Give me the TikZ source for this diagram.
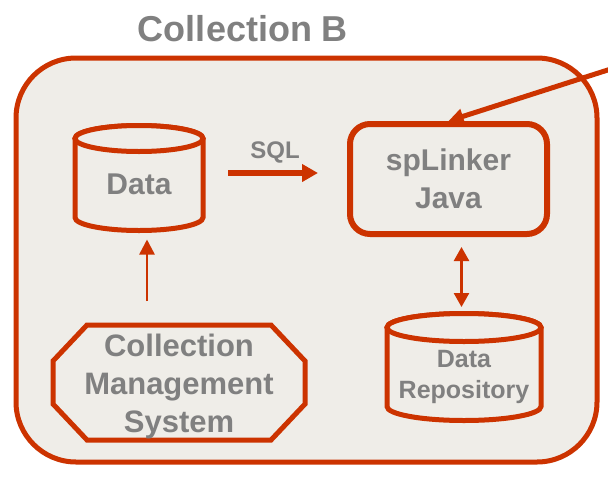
\documentclass[tikz,border=0pt]{standalone}
\usepackage{fontspec}
\setmainfont{Liberation Sans}
\usetikzlibrary{arrows.meta,positioning}

\definecolor{rust}{RGB}{204,51,0}
\definecolor{paper}{RGB}{239,237,232}
\definecolor{ink}{RGB}{128,128,128}

\tikzset{
	txt/.style={text=ink, align=center, inner sep=0pt},
	frame/.style={inner sep=0pt, outer sep=0pt},
	dbline/.style={draw=rust, line width=5pt, fill=paper},
	procbox/.style={rectangle, rounded corners=20pt, draw=rust, line width=6pt, fill=paper},
	sysline/.style={draw=rust, line width=5pt, fill=paper, line join=miter},
}

% drum outline round a frame node: node, x radius, y radius
\newcommand{\drumoutline}[3]{%
	\path[dbline] ([yshift=-#3]#1.north west) -- ([yshift=#3]#1.south west)
		arc[start angle=180, end angle=360, x radius=#2, y radius=#3]
		-- ([yshift=-#3]#1.north east)
		arc[start angle=0, end angle=180, x radius=#2, y radius=#3] -- cycle;
	\draw[dbline] ([yshift=-#3]#1.north) ellipse[x radius=#2, y radius=#3];}

\begin{document}
\begin{tikzpicture}[x=1pt,y=-1pt]
			\def\BigFont{\fontsize{31}{38}\selectfont\bfseries}
			\def\MidFont{\fontsize{25}{31}\selectfont\bfseries}
			\def\CutX{34pt}
			\def\CutY{36pt}
			\useasboundingbox[fill=white] (0,0) rectangle (608,477);
			% collection frame and title
			\node[draw=rust, fill=paper, line width=5pt, rounded corners=60pt,
				minimum width=581pt, minimum height=404pt] (collB) at (306.5,260) {};
			\node[txt, font=\fontsize{36}{42}\selectfont\bfseries] (title) at (243,29) {Collection B};
			% data store
			\node[frame, minimum width=128pt, minimum height=105pt] (data) at (139,178) {};
			\drumoutline{data}{64pt}{13pt}
			\node[txt, font=\fontsize{30}{36}\selectfont\bfseries] at ([yshift=-6pt]data.center) {Data};
			% linker
			\node[procbox, minimum width=197pt, minimum height=110pt] (splinker) at (448.5,179) {};
			\node[txt, font=\fontsize{30}{38}\selectfont\bfseries] at (splinker.center) {spLinker\\Java};
			% management system
			\node[frame, minimum width=252pt, minimum height=115pt] (cms) at (179,382.5) {};
			\path[sysline] ([xshift=\CutX]cms.north west) -- ([xshift=-\CutX]cms.north east)
				-- ([yshift=-\CutY]cms.north east) -- ([yshift=\CutY]cms.south east)
				-- ([xshift=-\CutX]cms.south east) -- ([xshift=\CutX]cms.south west)
				-- ([yshift=\CutY]cms.south west) -- ([yshift=-\CutY]cms.north west) -- cycle;
			\node[txt, font=\BigFont] at ([yshift=-4pt]cms.center) {Collection\\Management\\System};
			% repository
			\node[frame, minimum width=154pt, minimum height=107pt] (repo) at (464,367) {};
			\drumoutline{repo}{77pt}{14pt}
			\node[txt, font=\MidFont] at ([yshift=-10pt]repo.center) {Data\\Repository};
			% connectors
			\coordinate (feed) at (614,68);
			\draw[rust, line width=5pt, -{Triangle[length=15pt,width=15pt]}] (feed) -- (splinker.north);
			\draw[rust, line width=6pt, -{Triangle[length=16pt,width=17pt]},
				shorten <=25pt, shorten >=29pt]
				([yshift=5pt]data.east) -- ([yshift=5pt]data.east -| splinker.west)
				node[txt, midway, above=7pt, font=\fontsize{24}{28}\selectfont\bfseries] {SQL};
			\draw[rust, line width=2.5pt, -{Triangle[length=15pt,width=15pt]},
				shorten <=24pt, shorten >=9pt]
				([xshift=-32pt]cms.north) -- ([xshift=-32pt]cms.north |- data.south);
			\draw[rust, line width=2.5pt, {Triangle[length=14pt,width=15pt]}-{Triangle[length=14pt,width=15pt]},
				shorten <=10pt, shorten >=6.5pt]
				([xshift=13pt]splinker.south) -- ([xshift=13pt]splinker.south |- repo.north);
		\end{tikzpicture}
\end{document}
